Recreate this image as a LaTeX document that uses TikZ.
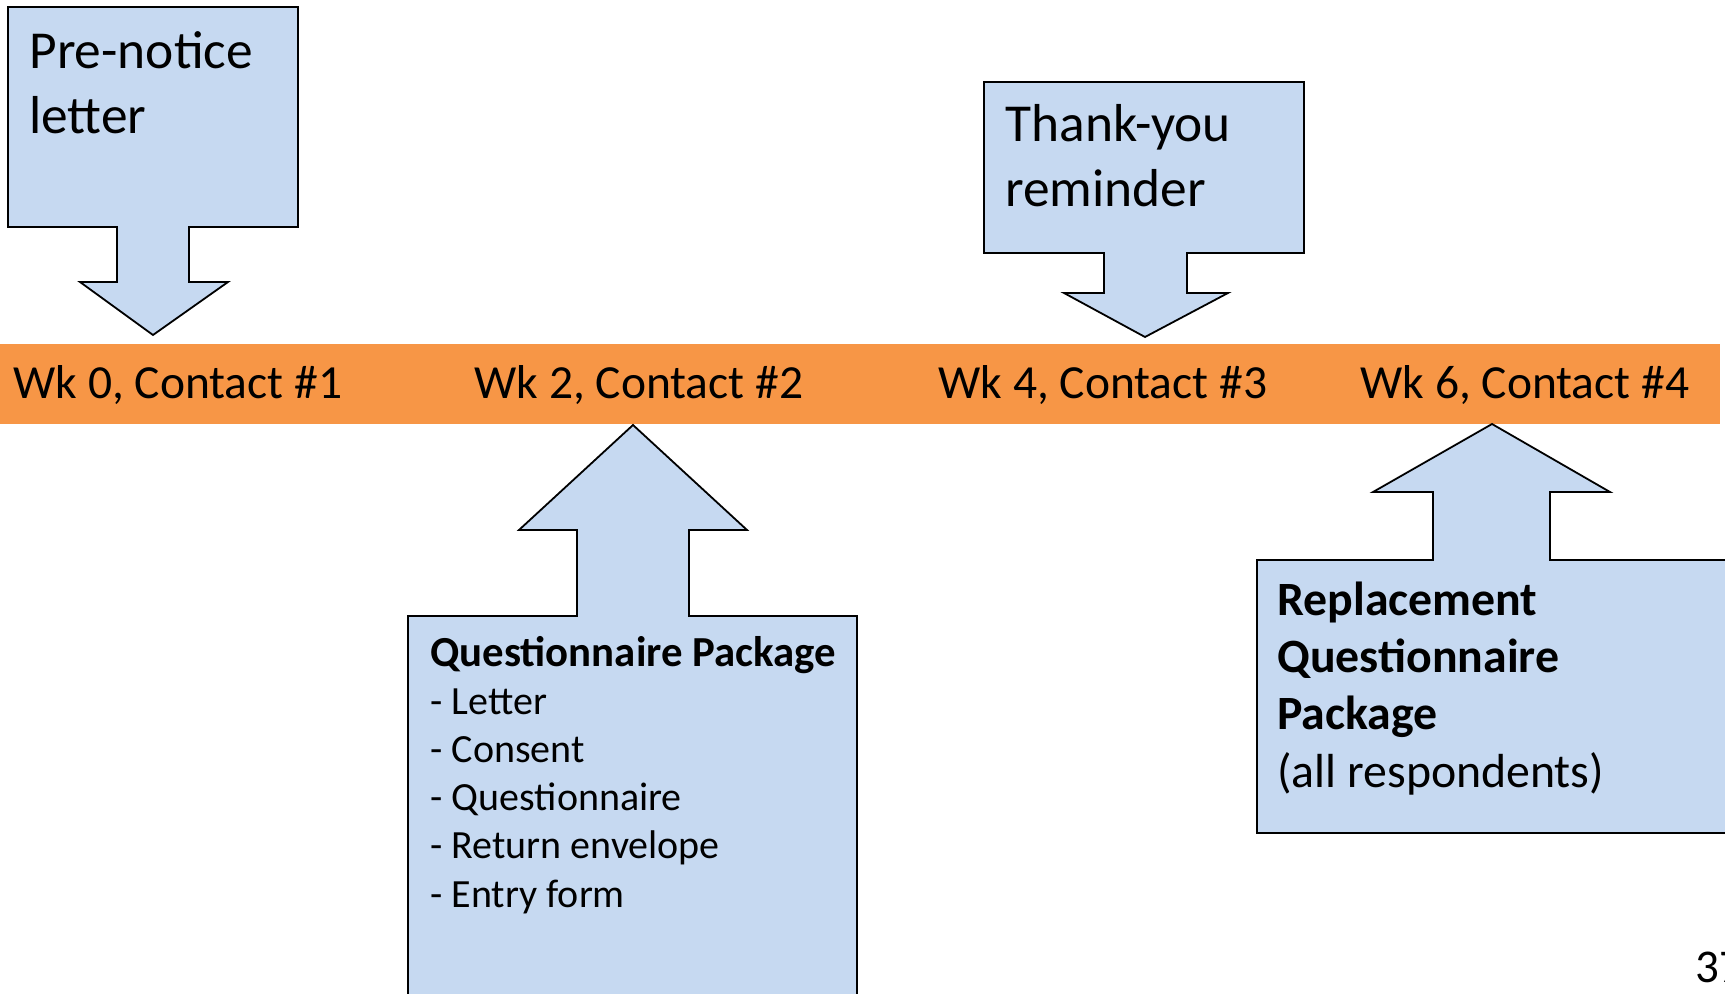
\documentclass[tikz,border=0pt]{standalone}
\usepackage{fontspec}
\setmainfont{Carlito}
\usepackage{tikz}
\usetikzlibrary{positioning}
\definecolor{callfill}{HTML}{C6D9F1}
\definecolor{barorange}{HTML}{F79646}
\tikzset{
  callout/.style ={draw=black,line width=0.9pt,fill=callfill,line join=miter},
  timebar/.style ={fill=barorange,draw=none},
  bigtext/.style ={anchor=base west,inner sep=0pt,align=left,
                   font=\fontsize{26.7}{32.5}\selectfont},
  weektext/.style={anchor=base west,inner sep=0pt,
                   font=\fontsize{23.75}{28}\selectfont},
  packtext/.style={anchor=base west,inner sep=0pt,align=left,
                   font=\fontsize{20}{24.1}\selectfont},
  repltext/.style={anchor=base west,inner sep=0pt,align=left,
                   font=\fontsize{23.9}{28.6}\selectfont}
}
\begin{document}
\begin{tikzpicture}[x=0.5pt,y=-0.5pt]
    \useasboundingbox (0,0) rectangle (1725,994);
    \clip (0,0) rectangle (1725,994);
    % timeline bar
    \fill[timebar] (0,344) rectangle (1720,424);
    \node[weektext] (wk0) at (13,399)   {Wk 0, Contact \#1};
    \node[weektext] (wk2) at (474,399)  {Wk 2, Contact \#2};
    \node[weektext] (wk4) at (938,399)  {Wk 4, Contact \#3};
    \node[weektext] (wk6) at (1360,399) {Wk 6, Contact \#4};
    % down callouts (text anchored on its last line)
    \draw[callout] (8,7) -- (298,7) -- (298,227) -- (189,227) -- (189,282)
        -- (228,282) -- (153,335) -- (80,282) -- (117,282) -- (117,227)
        -- (8,227) -- cycle;
    \node[bigtext] (prenote) at (29,134) {Pre-notice\\letter};
    \draw[callout] (984,82) -- (1304,82) -- (1304,253) -- (1187,253) -- (1187,293)
        -- (1228,293) -- (1145,337) -- (1064,293) -- (1104,293) -- (1104,253)
        -- (984,253) -- cycle;
    \node[bigtext] (thanks) at (1005,207) {Thank-you\\reminder};
    % up callouts
    \draw[callout] (408,1010) -- (408,616) -- (577,616) -- (577,530) -- (519,530)
        -- (633,425) -- (747,530) -- (689,530) -- (689,616) -- (857,616)
        -- (857,1010);
    \node[packtext] (qpack) at (430,907)
        {\textbf{\fontsize{21.4}{24.1}\selectfont Questionnaire Package}\\- Letter\\%
         - Consent\\- Questionnaire\\- Return envelope\\- Entry form};
    \draw[callout] (1745,833) -- (1257,833) -- (1257,560) -- (1433,560) -- (1433,492)
        -- (1373,492) -- (1492,424) -- (1610,492) -- (1550,492) -- (1550,560)
        -- (1745,560);
    \node[repltext] (rpack) at (1277,787)
        {\textbf{Replacement}\\\textbf{Questionnaire}\\\textbf{Package}\\(all respondents)};
    % slide number
    \node[anchor=base west,inner sep=0pt,font=\fontsize{23.5}{28}\selectfont]
        (slideno) at (1695,982) {37};
\end{tikzpicture}
\end{document}
